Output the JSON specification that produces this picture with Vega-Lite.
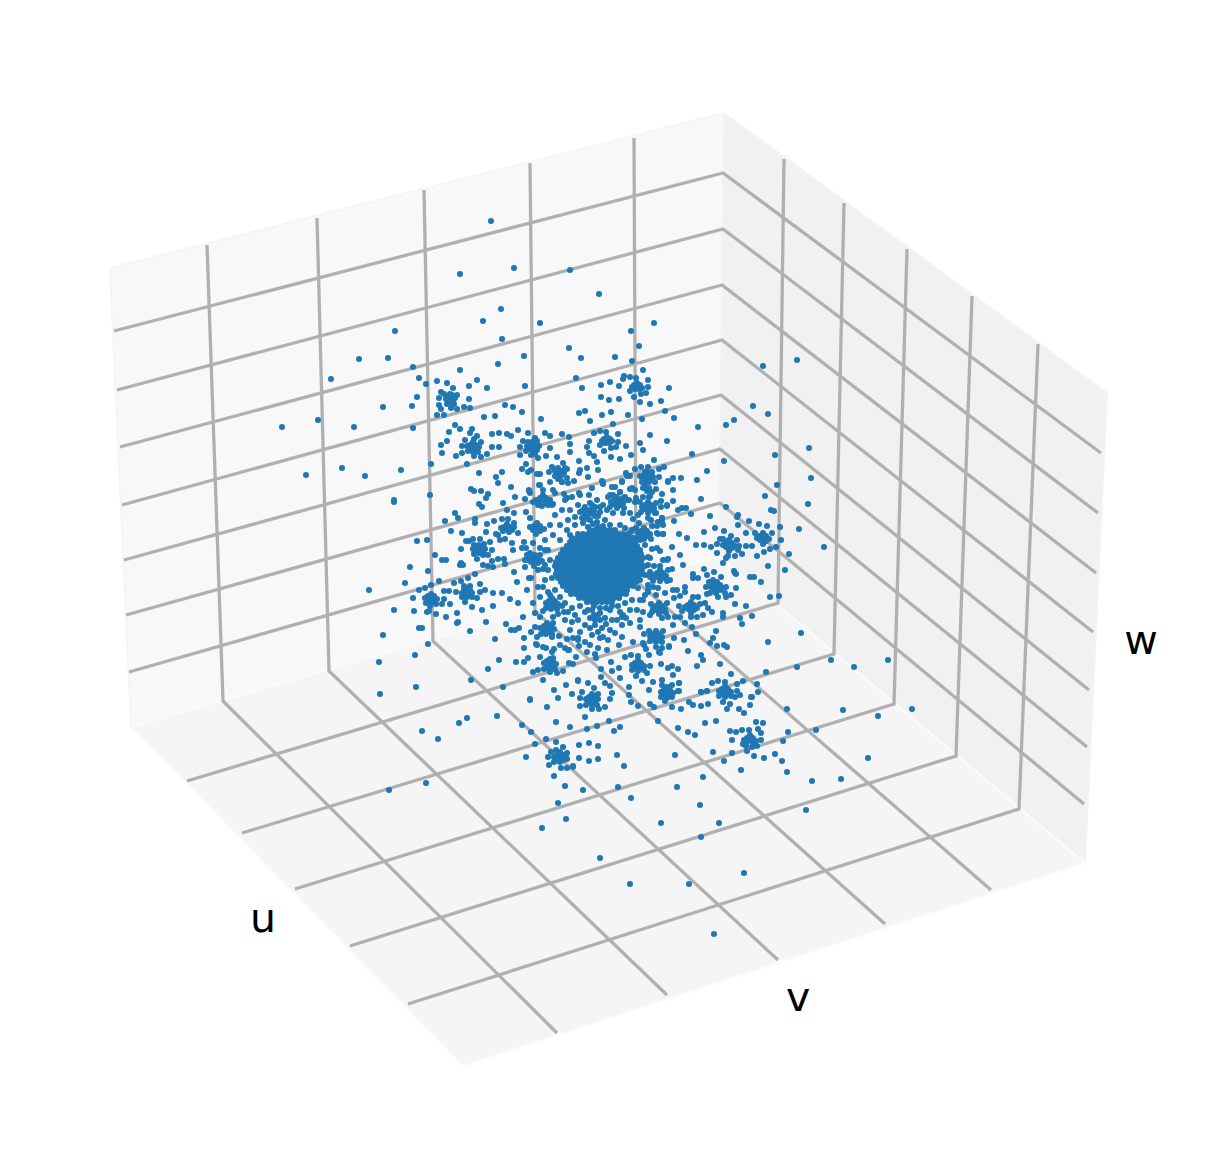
{"$schema":"https://vega.github.io/schema/vega-lite/v6.json","width":1220,"height":1168,"autosize":{"type":"fit","contains":"padding"},"padding":0,"background":"white","view":{"stroke":null},
"datasets":{
"panes":[{"p":"left","i":0,"x":110,"y":268},{"p":"left","i":1,"x":724,"y":113},{"p":"left","i":2,"x":719,"y":556},{"p":"left","i":3,"x":131,"y":727},{"p":"left","i":4,"x":110,"y":268}],
"panesR":[{"p":"right","i":0,"x":724,"y":113},{"p":"right","i":1,"x":1107,"y":393},{"p":"right","i":2,"x":1085,"y":863},{"p":"right","i":3,"x":719,"y":556},{"p":"right","i":4,"x":724,"y":113}],
"panesF":[{"p":"floor","i":0,"x":131,"y":727},{"p":"floor","i":1,"x":719,"y":556},{"p":"floor","i":2,"x":1085,"y":863},{"p":"floor","i":3,"x":463,"y":1066},{"p":"floor","i":4,"x":131,"y":727}],
"grid":[{"id":"a1","i":0,"x":207,"y":245},{"id":"a1","i":1,"x":223,"y":701},{"id":"a1","i":2,"x":557,"y":1033},
{"id":"a2","i":0,"x":317,"y":218},{"id":"a2","i":1,"x":329,"y":671},{"id":"a2","i":2,"x":667,"y":995},
{"id":"a3","i":0,"x":424,"y":190},{"id":"a3","i":1,"x":433,"y":641},{"id":"a3","i":2,"x":778,"y":960},
{"id":"a4","i":0,"x":530,"y":163},{"id":"a4","i":1,"x":535,"y":611},{"id":"a4","i":2,"x":885,"y":924},
{"id":"a5","i":0,"x":634,"y":138},{"id":"a5","i":1,"x":636,"y":581},{"id":"a5","i":2,"x":991,"y":890},
{"id":"b1","i":0,"x":784,"y":159},{"id":"b1","i":1,"x":778,"y":603},{"id":"b1","i":2,"x":187,"y":781},
{"id":"b2","i":0,"x":844,"y":203},{"id":"b2","i":1,"x":834,"y":654},{"id":"b2","i":2,"x":242,"y":833},
{"id":"b3","i":0,"x":907,"y":249},{"id":"b3","i":1,"x":894,"y":704},{"id":"b3","i":2,"x":295,"y":889},
{"id":"b4","i":0,"x":972,"y":296},{"id":"b4","i":1,"x":956,"y":756},{"id":"b4","i":2,"x":350,"y":946},
{"id":"b5","i":0,"x":1038,"y":344},{"id":"b5","i":1,"x":1019,"y":809},{"id":"b5","i":2,"x":408,"y":1004},
{"id":"c1","i":0,"x":114,"y":331},{"id":"c1","i":1,"x":723,"y":173},{"id":"c1","i":2,"x":1101,"y":453},
{"id":"c2","i":0,"x":117,"y":390},{"id":"c2","i":1,"x":723,"y":229},{"id":"c2","i":2,"x":1098,"y":513},
{"id":"c3","i":0,"x":120,"y":447},{"id":"c3","i":1,"x":722,"y":285},{"id":"c3","i":2,"x":1096,"y":573},
{"id":"c4","i":0,"x":122,"y":505},{"id":"c4","i":1,"x":722,"y":340},{"id":"c4","i":2,"x":1093,"y":632},
{"id":"c5","i":0,"x":124,"y":560},{"id":"c5","i":1,"x":721,"y":395},{"id":"c5","i":2,"x":1089,"y":690},
{"id":"c6","i":0,"x":126,"y":615},{"id":"c6","i":1,"x":720,"y":449},{"id":"c6","i":2,"x":1087,"y":747},
{"id":"c7","i":0,"x":129,"y":672},{"id":"c7","i":1,"x":720,"y":503},{"id":"c7","i":2,"x":1084,"y":804}],
"labels":[{"t":"u","x":263,"y":932},{"t":"v","x":798,"y":1011},{"t":"w","x":1141,"y":654}],
"pts":[
{"x":831,"y":660},{"x":854,"y":667},{"x":888,"y":660},{"x":787,"y":709},{"x":843,"y":710},{"x":878,"y":716},{"x":912,"y":709},{"x":788,"y":732},{"x":816,"y":730},{"x":783,"y":741},{"x":782,"y":761},{"x":787,"y":772},{"x":868,"y":758},{"x":812,"y":781},{"x":841,"y":779},{"x":806,"y":810},{"x":467,"y":718},{"x":459,"y":723},{"x":422,"y":731},{"x":438,"y":739},{"x":389,"y":790},{"x":426,"y":783},{"x":824,"y":547},{"x":801,"y":633},
{"x":491,"y":221},{"x":460,"y":274},{"x":514,"y":268},{"x":501,"y":309},{"x":483,"y":321},{"x":540,"y":323},{"x":502,"y":339},{"x":395,"y":331},{"x":359,"y":359},{"x":388,"y":358},{"x":413,"y":367},{"x":419,"y":378},{"x":426,"y":384},{"x":331,"y":379},{"x":524,"y":356},{"x":498,"y":364},{"x":460,"y":370},{"x":437,"y":381},{"x":447,"y":383},{"x":477,"y":380},{"x":469,"y":386},{"x":487,"y":388},{"x":525,"y":386},{"x":417,"y":397},{"x":412,"y":406},{"x":383,"y":407},
{"x":441,"y":392},{"x":453,"y":388},{"x":457,"y":395},{"x":439,"y":398},{"x":439,"y":405},{"x":441,"y":409},{"x":451,"y":408},{"x":457,"y":409},{"x":464,"y":407},{"x":470,"y":408},{"x":469,"y":399},{"x":437,"y":415},{"x":444,"y":415},{"x":450,"y":398},{"x":447,"y":396},{"x":452,"y":395},{"x":448,"y":401},{"x":453,"y":401},{"x":446,"y":399},{"x":455,"y":398},{"x":450,"y":402},{"x":450,"y":394},{"x":444,"y":394},{"x":447,"y":404},{"x":454,"y":404},
{"x":282,"y":427},{"x":318,"y":420},{"x":354,"y":427},{"x":413,"y":428},{"x":484,"y":417},{"x":495,"y":416},{"x":505,"y":405},{"x":513,"y":407},{"x":522,"y":412},{"x":541,"y":419},{"x":455,"y":425},{"x":460,"y":429},{"x":449,"y":432},{"x":447,"y":441},{"x":441,"y":445},{"x":442,"y":453},
{"x":472,"y":429},{"x":470,"y":433},{"x":477,"y":436},{"x":481,"y":442},{"x":465,"y":440},{"x":462,"y":446},{"x":462,"y":453},{"x":456,"y":456},{"x":474,"y":456},{"x":481,"y":457},{"x":487,"y":454},{"x":467,"y":464},{"x":473,"y":447},{"x":470,"y":445},{"x":476,"y":445},{"x":470,"y":449},{"x":476,"y":450},{"x":473,"y":442},{"x":467,"y":446},{"x":479,"y":447},{"x":473,"y":452},{"x":468,"y":451},{"x":478,"y":452},{"x":474,"y":439},
{"x":492,"y":434},{"x":499,"y":433},{"x":507,"y":434},{"x":511,"y":436},{"x":492,"y":447},{"x":499,"y":447},{"x":518,"y":430},{"x":528,"y":433},{"x":545,"y":433},{"x":550,"y":436},{"x":523,"y":441},{"x":535,"y":438},{"x":520,"y":447},{"x":520,"y":455},{"x":550,"y":448},{"x":546,"y":456},{"x":538,"y":458},{"x":533,"y":447},{"x":530,"y":445},{"x":536,"y":445},{"x":529,"y":449},{"x":533,"y":451},{"x":537,"y":450},{"x":527,"y":446},{"x":539,"y":446},{"x":532,"y":442},{"x":537,"y":441},{"x":528,"y":442},{"x":535,"y":454},{"x":531,"y":455},{"x":526,"y":451},
{"x":526,"y":464},{"x":522,"y":469},{"x":528,"y":472},{"x":531,"y":470},{"x":537,"y":474},{"x":540,"y":474},{"x":401,"y":470},{"x":342,"y":468},{"x":306,"y":475},{"x":365,"y":476},{"x":431,"y":464},{"x":479,"y":473},{"x":502,"y":472},{"x":496,"y":477},{"x":498,"y":483},{"x":511,"y":487},{"x":471,"y":489},{"x":474,"y":491},{"x":481,"y":491},{"x":488,"y":494},{"x":486,"y":498},{"x":430,"y":495},{"x":394,"y":500},{"x":515,"y":497},{"x":525,"y":499},
{"x":557,"y":457},{"x":552,"y":467},{"x":549,"y":472},{"x":550,"y":482},{"x":553,"y":490},{"x":555,"y":493},{"x":539,"y":485},{"x":529,"y":491},{"x":543,"y":490},{"x":558,"y":473},{"x":555,"y":471},{"x":561,"y":471},{"x":555,"y":476},{"x":561,"y":476},{"x":558,"y":468},{"x":564,"y":473},{"x":558,"y":479},{"x":565,"y":468},{"x":567,"y":478},
{"x":570,"y":270},{"x":599,"y":294},{"x":654,"y":323},{"x":631,"y":331},{"x":639,"y":346},{"x":569,"y":348},{"x":581,"y":358},{"x":615,"y":357},{"x":632,"y":361},{"x":643,"y":370},{"x":576,"y":378},{"x":582,"y":388},{"x":601,"y":385},{"x":610,"y":382},{"x":619,"y":386},{"x":624,"y":376},{"x":623,"y":379},{"x":630,"y":377},{"x":636,"y":378},{"x":648,"y":380},{"x":648,"y":387},{"x":646,"y":393},{"x":641,"y":394},{"x":630,"y":391},{"x":634,"y":397},{"x":601,"y":397},{"x":609,"y":400},{"x":619,"y":399},{"x":640,"y":402},{"x":650,"y":404},{"x":661,"y":401},{"x":669,"y":388},{"x":637,"y":386},{"x":634,"y":385},{"x":640,"y":385},{"x":635,"y":389},{"x":639,"y":389},{"x":637,"y":383},{"x":632,"y":387},{"x":642,"y":388},
{"x":579,"y":413},{"x":585,"y":411},{"x":602,"y":415},{"x":611,"y":412},{"x":628,"y":415},{"x":665,"y":411},{"x":674,"y":418},{"x":642,"y":419},{"x":590,"y":421},{"x":613,"y":424},{"x":698,"y":427},{"x":726,"y":425},{"x":734,"y":420},{"x":753,"y":406},{"x":768,"y":414},{"x":763,"y":366},{"x":797,"y":360},{"x":562,"y":434},{"x":569,"y":437},{"x":570,"y":444},{"x":570,"y":452},{"x":594,"y":433},{"x":600,"y":431},{"x":606,"y":432},{"x":618,"y":434},{"x":618,"y":442},{"x":589,"y":441},{"x":587,"y":447},{"x":600,"y":445},{"x":604,"y":451},{"x":611,"y":448},{"x":616,"y":447},{"x":626,"y":446},{"x":640,"y":443},{"x":650,"y":435},{"x":667,"y":441},{"x":643,"y":450},{"x":607,"y":441},{"x":604,"y":439},{"x":610,"y":439},{"x":605,"y":443},{"x":609,"y":443},{"x":602,"y":441},{"x":612,"y":441},{"x":607,"y":437},
{"x":589,"y":453},{"x":594,"y":456},{"x":597,"y":462},{"x":611,"y":457},{"x":620,"y":459},{"x":631,"y":455},{"x":579,"y":461},{"x":563,"y":463},{"x":692,"y":454},{"x":724,"y":461},{"x":775,"y":455},{"x":809,"y":448},{"x":654,"y":460},{"x":587,"y":468},{"x":580,"y":470},{"x":579,"y":473},{"x":567,"y":469},{"x":598,"y":470},{"x":588,"y":477},{"x":574,"y":481},{"x":568,"y":483},{"x":562,"y":482},{"x":626,"y":473},{"x":635,"y":469},{"x":641,"y":467},{"x":648,"y":467},{"x":659,"y":469},{"x":664,"y":467},{"x":659,"y":477},{"x":673,"y":478},{"x":681,"y":478},{"x":668,"y":481},{"x":697,"y":480},{"x":707,"y":471},{"x":777,"y":485},{"x":811,"y":478},
{"x":647,"y":476},{"x":644,"y":475},{"x":650,"y":475},{"x":645,"y":479},{"x":650,"y":479},{"x":642,"y":478},{"x":653,"y":477},{"x":647,"y":472},{"x":640,"y":476},{"x":645,"y":472},{"x":652,"y":472},{"x":644,"y":482},{"x":649,"y":482},{"x":627,"y":476},{"x":630,"y":476},{"x":622,"y":481},{"x":602,"y":481},{"x":603,"y":484},{"x":592,"y":488},{"x":579,"y":493},{"x":612,"y":487},{"x":615,"y":487},{"x":630,"y":489},{"x":635,"y":490},{"x":620,"y":492},{"x":645,"y":486},{"x":647,"y":491},{"x":652,"y":492},{"x":656,"y":489},{"x":673,"y":490},{"x":662,"y":494},{"x":701,"y":499},{"x":765,"y":496},{"x":673,"y":501},{"x":661,"y":501},{"x":649,"y":497},{"x":636,"y":498},{"x":628,"y":500},{"x":564,"y":494},{"x":567,"y":498},{"x":589,"y":495},
{"x":808,"y":504},{"x":726,"y":507},{"x":771,"y":510},{"x":774,"y":511},{"x":667,"y":506},{"x":678,"y":510},{"x":682,"y":508},{"x":686,"y":508},{"x":691,"y":514},{"x":710,"y":516},{"x":738,"y":515},{"x":737,"y":517},{"x":749,"y":521},{"x":759,"y":524},{"x":767,"y":526},{"x":780,"y":527},{"x":799,"y":529},{"x":738,"y":525},{"x":746,"y":533},{"x":724,"y":531},{"x":731,"y":536},{"x":715,"y":528},{"x":704,"y":532},{"x":679,"y":534},{"x":674,"y":521},{"x":662,"y":518},{"x":663,"y":525},{"x":657,"y":526},{"x":663,"y":534},{"x":658,"y":534},{"x":687,"y":538},
{"x":394,"y":502},{"x":503,"y":503},{"x":479,"y":504},{"x":482,"y":507},{"x":507,"y":510},{"x":514,"y":513},{"x":526,"y":512},{"x":455,"y":513},{"x":458,"y":518},{"x":445,"y":521},{"x":475,"y":519},{"x":475,"y":523},{"x":487,"y":524},{"x":494,"y":521},{"x":451,"y":531},{"x":462,"y":533},{"x":486,"y":532},{"x":417,"y":541},{"x":427,"y":540},{"x":435,"y":555},{"x":410,"y":567},{"x":428,"y":571},{"x":405,"y":583},{"x":369,"y":590},{"x":439,"y":581},{"x":394,"y":610},{"x":414,"y":611},{"x":413,"y":598},{"x":419,"y":590},{"x":425,"y":588},{"x":431,"y":585},
{"x":431,"y":598},{"x":428,"y":596},{"x":434,"y":596},{"x":428,"y":600},{"x":434,"y":600},{"x":431,"y":602},{"x":425,"y":598},{"x":437,"y":599},{"x":431,"y":594},{"x":426,"y":603},{"x":436,"y":604},{"x":430,"y":606},{"x":427,"y":612},{"x":429,"y":611},{"x":436,"y":614},{"x":442,"y":604},{"x":444,"y":599},{"x":450,"y":604},{"x":446,"y":617},{"x":457,"y":613},{"x":457,"y":623},{"x":458,"y":622},{"x":472,"y":607},{"x":482,"y":610},{"x":493,"y":606},{"x":486,"y":622},{"x":506,"y":624},{"x":510,"y":599},{"x":518,"y":603},{"x":502,"y":593},{"x":493,"y":593},{"x":485,"y":590},{"x":523,"y":617},
{"x":467,"y":592},{"x":464,"y":590},{"x":470,"y":590},{"x":465,"y":594},{"x":470,"y":594},{"x":462,"y":593},{"x":472,"y":593},{"x":467,"y":588},{"x":467,"y":597},{"x":462,"y":597},{"x":472,"y":597},{"x":464,"y":586},{"x":470,"y":586},{"x":444,"y":591},{"x":449,"y":591},{"x":454,"y":583},{"x":461,"y":581},{"x":456,"y":592},{"x":468,"y":578},{"x":475,"y":574},{"x":480,"y":584},{"x":480,"y":592},{"x":477,"y":598},{"x":465,"y":602},{"x":461,"y":563},{"x":460,"y":565},{"x":463,"y":565},{"x":442,"y":560},{"x":446,"y":560},{"x":477,"y":559},{"x":483,"y":565},{"x":492,"y":561},{"x":498,"y":559},{"x":504,"y":559},{"x":488,"y":566},{"x":493,"y":567},{"x":505,"y":564},{"x":514,"y":572},{"x":525,"y":567},{"x":517,"y":582},{"x":529,"y":578},{"x":531,"y":578},{"x":527,"y":590},
{"x":479,"y":549},{"x":476,"y":547},{"x":482,"y":547},{"x":476,"y":551},{"x":482,"y":551},{"x":479,"y":553},{"x":473,"y":549},{"x":485,"y":549},{"x":479,"y":545},{"x":474,"y":545},{"x":484,"y":544},{"x":474,"y":554},{"x":484,"y":554},{"x":466,"y":541},{"x":469,"y":541},{"x":473,"y":539},{"x":480,"y":539},{"x":461,"y":549},{"x":490,"y":542},{"x":492,"y":550},{"x":488,"y":555},{"x":483,"y":555},
{"x":507,"y":529},{"x":504,"y":527},{"x":510,"y":527},{"x":503,"y":531},{"x":509,"y":532},{"x":512,"y":530},{"x":501,"y":528},{"x":507,"y":524},{"x":514,"y":527},{"x":498,"y":535},{"x":496,"y":534},{"x":500,"y":540},{"x":505,"y":539},{"x":502,"y":519},{"x":508,"y":519},{"x":514,"y":523},{"x":518,"y":533},{"x":512,"y":543},{"x":513,"y":550},{"x":522,"y":548},{"x":524,"y":542},{"x":526,"y":548},{"x":533,"y":543},{"x":530,"y":518},{"x":537,"y":528},{"x":534,"y":526},{"x":540,"y":526},{"x":533,"y":530},{"x":540,"y":531},{"x":530,"y":527},{"x":544,"y":529},{"x":537,"y":523},{"x":536,"y":534},
{"x":543,"y":500},{"x":540,"y":498},{"x":546,"y":498},{"x":539,"y":502},{"x":546,"y":503},{"x":536,"y":500},{"x":550,"y":500},{"x":543,"y":495},{"x":542,"y":506},{"x":538,"y":505},{"x":548,"y":505},{"x":553,"y":504},{"x":529,"y":490},{"x":530,"y":493},{"x":540,"y":485},{"x":533,"y":502},{"x":552,"y":505},{"x":562,"y":482},
{"x":535,"y":560},{"x":532,"y":558},{"x":538,"y":558},{"x":531,"y":562},{"x":538,"y":563},{"x":528,"y":560},{"x":542,"y":561},{"x":535,"y":555},{"x":534,"y":566},{"x":545,"y":565},{"x":530,"y":553},{"x":527,"y":555},{"x":525,"y":560},{"x":540,"y":548},{"x":545,"y":550},{"x":538,"y":570},{"x":543,"y":569},
{"x":552,"y":603},{"x":549,"y":601},{"x":555,"y":601},{"x":549,"y":605},{"x":555,"y":606},{"x":546,"y":603},{"x":558,"y":604},{"x":552,"y":598},{"x":551,"y":609},{"x":546,"y":608},{"x":557,"y":609},{"x":540,"y":597},{"x":538,"y":587},{"x":543,"y":587},{"x":548,"y":592},{"x":533,"y":603},{"x":535,"y":613},{"x":543,"y":611},{"x":540,"y":617},{"x":553,"y":617},{"x":558,"y":614},{"x":564,"y":612},{"x":553,"y":623},
{"x":547,"y":628},{"x":544,"y":626},{"x":550,"y":626},{"x":543,"y":630},{"x":550,"y":631},{"x":540,"y":628},{"x":554,"y":629},{"x":547,"y":623},{"x":546,"y":634},{"x":541,"y":634},{"x":552,"y":634},{"x":535,"y":627},{"x":531,"y":632},{"x":537,"y":637},{"x":524,"y":638},{"x":536,"y":644},{"x":524,"y":648},{"x":528,"y":658},{"x":552,"y":637},{"x":559,"y":636},{"x":567,"y":639},{"x":573,"y":638},{"x":578,"y":638},{"x":560,"y":645},{"x":565,"y":648},{"x":569,"y":650},{"x":511,"y":630},{"x":515,"y":630},{"x":519,"y":628},
{"x":550,"y":663},{"x":547,"y":661},{"x":553,"y":661},{"x":547,"y":665},{"x":553,"y":666},{"x":544,"y":663},{"x":556,"y":664},{"x":550,"y":659},{"x":549,"y":669},{"x":544,"y":669},{"x":555,"y":669},{"x":540,"y":657},{"x":546,"y":648},{"x":552,"y":652},{"x":553,"y":658},{"x":533,"y":672},{"x":538,"y":670},{"x":550,"y":672},{"x":557,"y":673},{"x":563,"y":671},{"x":569,"y":663},{"x":573,"y":664},{"x":543,"y":680},{"x":516,"y":662},{"x":524,"y":662},{"x":499,"y":660},{"x":488,"y":669},{"x":470,"y":631},{"x":495,"y":639},{"x":428,"y":644},{"x":415,"y":655},{"x":379,"y":662},{"x":416,"y":687},{"x":380,"y":694},{"x":471,"y":680},{"x":503,"y":687},{"x":383,"y":635},{"x":419,"y":628},{"x":422,"y":628},{"x":554,"y":690},{"x":566,"y":685},{"x":578,"y":680},{"x":572,"y":694},{"x":530,"y":699},
{"x":781,"y":540},{"x":776,"y":547},{"x":770,"y":549},{"x":764,"y":552},{"x":789,"y":554},{"x":768,"y":566},{"x":785,"y":570},{"x":761,"y":582},{"x":763,"y":538},{"x":760,"y":536},{"x":766,"y":536},{"x":760,"y":540},{"x":766,"y":541},{"x":757,"y":538},{"x":769,"y":539},{"x":763,"y":533},{"x":763,"y":544},{"x":772,"y":533},{"x":755,"y":533},
{"x":729,"y":545},{"x":726,"y":543},{"x":732,"y":543},{"x":726,"y":547},{"x":732,"y":548},{"x":723,"y":545},{"x":735,"y":546},{"x":729,"y":540},{"x":729,"y":551},{"x":737,"y":540},{"x":723,"y":539},{"x":738,"y":550},{"x":720,"y":539},{"x":696,"y":545},{"x":704,"y":545},{"x":711,"y":547},{"x":717,"y":544},{"x":739,"y":546},{"x":746,"y":546},{"x":752,"y":546},{"x":735,"y":556},{"x":742,"y":554},{"x":757,"y":556},{"x":717,"y":553},{"x":728,"y":556},{"x":726,"y":558},{"x":723,"y":563},{"x":680,"y":555},{"x":668,"y":559},{"x":667,"y":560},{"x":683,"y":565},{"x":672,"y":569},{"x":672,"y":547},
{"x":735,"y":573},{"x":734,"y":571},{"x":736,"y":574},{"x":693,"y":574},{"x":704,"y":569},{"x":714,"y":572},{"x":698,"y":578},{"x":693,"y":578},{"x":707,"y":575},{"x":750,"y":577},{"x":754,"y":577},
{"x":717,"y":587},{"x":714,"y":585},{"x":720,"y":585},{"x":714,"y":589},{"x":720,"y":590},{"x":711,"y":587},{"x":723,"y":588},{"x":717,"y":582},{"x":716,"y":593},{"x":726,"y":587},{"x":709,"y":582},{"x":710,"y":593},{"x":725,"y":593},{"x":713,"y":580},{"x":721,"y":577},{"x":706,"y":587},{"x":707,"y":594},{"x":718,"y":597},{"x":726,"y":597},{"x":731,"y":595},{"x":736,"y":588},{"x":735,"y":604},{"x":746,"y":606},{"x":770,"y":597},{"x":779,"y":596},
{"x":691,"y":607},{"x":688,"y":605},{"x":694,"y":605},{"x":688,"y":609},{"x":694,"y":610},{"x":685,"y":607},{"x":697,"y":608},{"x":691,"y":602},{"x":691,"y":613},{"x":682,"y":611},{"x":700,"y":604},{"x":685,"y":587},{"x":685,"y":592},{"x":693,"y":597},{"x":698,"y":597},{"x":705,"y":603},{"x":708,"y":608},{"x":712,"y":612},{"x":703,"y":615},{"x":697,"y":617},{"x":691,"y":617},{"x":685,"y":623},{"x":680,"y":617},{"x":675,"y":617},{"x":692,"y":627},{"x":696,"y":634},{"x":673,"y":625},{"x":679,"y":606},{"x":680,"y":596},{"x":673,"y":590},{"x":677,"y":590},{"x":674,"y":598},
{"x":723,"y":613},{"x":723,"y":617},{"x":740,"y":618},{"x":752,"y":616},{"x":742,"y":624},{"x":716,"y":631},{"x":713,"y":638},{"x":710,"y":643},{"x":717,"y":646},{"x":724,"y":645},{"x":727,"y":647},{"x":768,"y":642},{"x":701,"y":655},{"x":703,"y":660},{"x":688,"y":651},{"x":684,"y":640},{"x":697,"y":666},{"x":720,"y":664},{"x":766,"y":672},{"x":797,"y":667},{"x":731,"y":674},{"x":743,"y":681},{"x":737,"y":684},{"x":757,"y":684},{"x":758,"y":692},{"x":718,"y":681},{"x":712,"y":683},{"x":707,"y":691},{"x":701,"y":692},{"x":752,"y":697},{"x":740,"y":695},{"x":679,"y":683},{"x":678,"y":691},
{"x":497,"y":716},{"x":530,"y":700},{"x":547,"y":707},{"x":558,"y":698},{"x":578,"y":681},{"x":588,"y":683},{"x":594,"y":688},{"x":582,"y":692},{"x":598,"y":694},{"x":612,"y":693},{"x":610,"y":686},{"x":605,"y":683},{"x":610,"y":699},{"x":580,"y":698},{"x":580,"y":706},{"x":605,"y":707},{"x":599,"y":709},{"x":592,"y":709},{"x":585,"y":717},{"x":556,"y":722},{"x":570,"y":727},{"x":587,"y":729},{"x":597,"y":726},{"x":609,"y":721},{"x":614,"y":731},{"x":620,"y":727},{"x":522,"y":725},{"x":531,"y":732},{"x":535,"y":744},{"x":546,"y":739},{"x":556,"y":742},{"x":563,"y":747},{"x":526,"y":757},{"x":548,"y":757},{"x":551,"y":752},{"x":567,"y":753},{"x":567,"y":759},{"x":579,"y":745},{"x":589,"y":743},{"x":598,"y":746},{"x":579,"y":758},{"x":589,"y":761},{"x":598,"y":759},{"x":617,"y":755},{"x":624,"y":766},{"x":549,"y":765},{"x":561,"y":768},{"x":567,"y":768},{"x":573,"y":767},{"x":573,"y":766},{"x":554,"y":776},{"x":565,"y":786},{"x":583,"y":790},{"x":618,"y":787},{"x":631,"y":798},{"x":558,"y":803},{"x":566,"y":819},{"x":542,"y":828},{"x":600,"y":858},{"x":630,"y":884},{"x":689,"y":884},{"x":744,"y":873},{"x":714,"y":934},{"x":661,"y":823},{"x":719,"y":823},{"x":701,"y":837},{"x":700,"y":805},{"x":677,"y":787},{"x":703,"y":777},{"x":675,"y":755},{"x":741,"y":770},{"x":724,"y":761},{"x":713,"y":752},{"x":732,"y":753},{"x":754,"y":756},{"x":764,"y":758},{"x":775,"y":754},{"x":658,"y":721},{"x":678,"y":728},{"x":688,"y":732},{"x":695,"y":735},{"x":705,"y":723},{"x":716,"y":721},{"x":756,"y":722},{"x":763,"y":723},{"x":730,"y":731},{"x":736,"y":732},{"x":742,"y":730},{"x":749,"y":730},{"x":758,"y":729},{"x":761,"y":733},{"x":732,"y":740},{"x":761,"y":740},{"x":743,"y":744},{"x":747,"y":751},
{"x":750,"y":740},{"x":747,"y":738},{"x":753,"y":738},{"x":747,"y":742},{"x":753,"y":743},{"x":744,"y":740},{"x":756,"y":741},{"x":750,"y":735},{"x":752,"y":747},{"x":746,"y":746},{"x":757,"y":746},
{"x":560,"y":757},{"x":557,"y":755},{"x":563,"y":755},{"x":557,"y":759},{"x":563,"y":760},{"x":554,"y":757},{"x":566,"y":757},{"x":560,"y":752},{"x":560,"y":762},{"x":554,"y":762},{"x":556,"y":750},
{"x":592,"y":699},{"x":589,"y":697},{"x":595,"y":697},{"x":589,"y":701},{"x":595,"y":702},{"x":586,"y":699},{"x":598,"y":699},{"x":592,"y":694},{"x":592,"y":705},{"x":586,"y":705},{"x":597,"y":705},
{"x":667,"y":692},{"x":664,"y":690},{"x":670,"y":690},{"x":664,"y":694},{"x":670,"y":695},{"x":661,"y":692},{"x":673,"y":693},{"x":667,"y":687},{"x":667,"y":698},{"x":661,"y":697},{"x":672,"y":697},{"x":662,"y":685},{"x":672,"y":685},{"x":649,"y":690},{"x":653,"y":682},{"x":662,"y":680},{"x":679,"y":683},{"x":679,"y":691},{"x":665,"y":701},{"x":672,"y":707},{"x":681,"y":709},{"x":693,"y":705},{"x":701,"y":706},{"x":708,"y":704},{"x":689,"y":702},{"x":701,"y":692},{"x":707,"y":691},{"x":654,"y":707},{"x":650,"y":704},{"x":638,"y":706},{"x":631,"y":702},{"x":629,"y":695},{"x":629,"y":687},
{"x":725,"y":691},{"x":722,"y":689},{"x":728,"y":689},{"x":722,"y":693},{"x":728,"y":694},{"x":719,"y":691},{"x":731,"y":692},{"x":725,"y":686},{"x":725,"y":697},{"x":719,"y":696},{"x":731,"y":696},{"x":725,"y":682},{"x":737,"y":691},{"x":735,"y":697},{"x":723,"y":702},{"x":730,"y":704},{"x":727,"y":709},{"x":739,"y":709},{"x":744,"y":713},{"x":750,"y":705},{"x":751,"y":697},
{"x":638,"y":665},{"x":635,"y":663},{"x":641,"y":663},{"x":635,"y":667},{"x":641,"y":668},{"x":632,"y":665},{"x":644,"y":666},{"x":638,"y":660},{"x":638,"y":671},{"x":632,"y":670},{"x":644,"y":670},{"x":625,"y":657},{"x":631,"y":655},{"x":638,"y":656},{"x":649,"y":655},{"x":650,"y":666},{"x":619,"y":668},{"x":612,"y":671},{"x":611,"y":662},{"x":601,"y":669},{"x":601,"y":677},{"x":620,"y":678},{"x":636,"y":676},{"x":642,"y":681},{"x":647,"y":673},{"x":661,"y":664},{"x":668,"y":668},{"x":672,"y":666},{"x":678,"y":669},{"x":673,"y":675},{"x":596,"y":658},{"x":595,"y":654},{"x":607,"y":650},{"x":619,"y":645},{"x":644,"y":645},{"x":646,"y":649},{"x":662,"y":648},{"x":659,"y":652},{"x":669,"y":647},
{"x":554,"y":649},{"x":543,"y":647},{"x":568,"y":650},{"x":576,"y":657},{"x":537,"y":645},{"x":579,"y":646},{"x":587,"y":652},
{"x":659,"y":608},{"x":656,"y":606},{"x":662,"y":606},{"x":656,"y":610},{"x":662,"y":611},{"x":653,"y":608},{"x":665,"y":609},{"x":659,"y":603},{"x":659,"y":614},{"x":652,"y":612},{"x":666,"y":613},{"x":651,"y":604},{"x":667,"y":603},{"x":656,"y":595},{"x":665,"y":593},{"x":648,"y":592},{"x":643,"y":600},{"x":643,"y":612},{"x":637,"y":610},{"x":650,"y":615},{"x":662,"y":618},{"x":668,"y":617},{"x":640,"y":620},{"x":630,"y":623},{"x":622,"y":617},{"x":617,"y":620},{"x":623,"y":615},{"x":640,"y":627},{"x":644,"y":634},{"x":643,"y":643},{"x":633,"y":642},{"x":622,"y":637},{"x":603,"y":637},
{"x":656,"y":636},{"x":653,"y":634},{"x":659,"y":634},{"x":653,"y":638},{"x":659,"y":639},{"x":650,"y":636},{"x":662,"y":637},{"x":656,"y":631},{"x":656,"y":642},{"x":650,"y":641},{"x":662,"y":642},{"x":649,"y":631},{"x":663,"y":631},{"x":669,"y":646},{"x":660,"y":653},{"x":674,"y":638},{"x":656,"y":647},
{"x":660,"y":575},{"x":657,"y":573},{"x":663,"y":573},{"x":657,"y":577},{"x":663,"y":578},{"x":654,"y":575},{"x":666,"y":576},{"x":660,"y":570},{"x":660,"y":581},{"x":653,"y":581},{"x":667,"y":581},{"x":650,"y":572},{"x":668,"y":570},{"x":654,"y":566},{"x":660,"y":566},{"x":670,"y":580},{"x":648,"y":557},{"x":652,"y":549},{"x":657,"y":548},{"x":660,"y":551},{"x":663,"y":560},{"x":650,"y":577},{"x":640,"y":580},{"x":638,"y":588},{"x":648,"y":590},{"x":658,"y":588},{"x":653,"y":587},
{"x":644,"y":533},{"x":641,"y":531},{"x":647,"y":531},{"x":641,"y":535},{"x":647,"y":536},{"x":638,"y":533},{"x":650,"y":534},{"x":644,"y":528},{"x":644,"y":539},{"x":637,"y":538},{"x":651,"y":539},{"x":636,"y":528},{"x":652,"y":526},{"x":658,"y":522},{"x":662,"y":522},{"x":651,"y":520},{"x":633,"y":519},{"x":639,"y":523},{"x":631,"y":532},{"x":623,"y":535},{"x":633,"y":538},{"x":637,"y":547},{"x":628,"y":545},{"x":657,"y":533},{"x":663,"y":534},
{"x":617,"y":502},{"x":614,"y":500},{"x":620,"y":500},{"x":614,"y":504},{"x":620,"y":505},{"x":611,"y":502},{"x":623,"y":503},{"x":617,"y":497},{"x":617,"y":508},{"x":610,"y":507},{"x":624,"y":508},{"x":608,"y":497},{"x":625,"y":497},{"x":610,"y":495},{"x":613,"y":495},{"x":620,"y":492},{"x":623,"y":498},{"x":629,"y":500},{"x":597,"y":500},{"x":607,"y":510},{"x":613,"y":513},{"x":623,"y":513},{"x":630,"y":513},{"x":635,"y":502},
{"x":648,"y":507},{"x":645,"y":505},{"x":651,"y":505},{"x":645,"y":509},{"x":651,"y":510},{"x":642,"y":507},{"x":654,"y":508},{"x":648,"y":502},{"x":648,"y":513},{"x":641,"y":512},{"x":655,"y":513},{"x":640,"y":502},{"x":656,"y":503},{"x":643,"y":497},{"x":650,"y":496},{"x":667,"y":505},{"x":661,"y":507},{"x":656,"y":513},{"x":648,"y":518},{"x":638,"y":515},{"x":662,"y":518},{"x":642,"y":482},{"x":655,"y":482},{"x":668,"y":482},{"x":603,"y":482},{"x":622,"y":482},{"x":632,"y":488},{"x":649,"y":488},{"x":643,"y":488},
{"x":590,"y":510},{"x":585,"y":507},{"x":595,"y":507},{"x":580,"y":512},{"x":600,"y":512},{"x":585,"y":515},{"x":595,"y":516},{"x":590,"y":503},{"x":578,"y":505},{"x":603,"y":505},{"x":575,"y":517},{"x":590,"y":520},{"x":597,"y":522},{"x":583,"y":523},{"x":605,"y":520},{"x":610,"y":525},{"x":575,"y":525},{"x":568,"y":520},{"x":562,"y":510},{"x":570,"y":510},{"x":565,"y":500},{"x":572,"y":497},{"x":580,"y":495},{"x":560,"y":525},{"x":567,"y":530},{"x":555,"y":515},{"x":550,"y":525},{"x":553,"y":535},{"x":560,"y":540},{"x":570,"y":535},{"x":615,"y":530},{"x":620,"y":525},{"x":625,"y":528},
{"x":586,"y":511},{"x":590,"y":514},{"x":594,"y":511},{"x":598,"y":516},{"x":587,"y":519},{"x":593,"y":524},{"x":588,"y":527},{"x":598,"y":527},{"x":603,"y":526},{"x":582,"y":518},{"x":600,"y":507},{"x":592,"y":505},{"x":583,"y":510},
{"x":545,"y":540},{"x":548,"y":550},{"x":540,"y":555},{"x":550,"y":560},{"x":548,"y":570},{"x":552,"y":578},{"x":545,"y":580},{"x":555,"y":590},{"x":560,"y":597},{"x":550,"y":595},{"x":565,"y":603},{"x":572,"y":608},{"x":580,"y":606},{"x":575,"y":615},{"x":585,"y":612},{"x":592,"y":610},{"x":600,"y":608},{"x":610,"y":610},{"x":618,"y":606},{"x":625,"y":603},{"x":632,"y":600},{"x":590,"y":618},{"x":598,"y":615},{"x":605,"y":618},{"x":612,"y":620},{"x":585,"y":625},{"x":595,"y":625},{"x":602,"y":628},{"x":610,"y":630},{"x":580,"y":632},{"x":592,"y":635},{"x":600,"y":638},{"x":608,"y":640},{"x":615,"y":633},{"x":572,"y":622},{"x":565,"y":620},{"x":570,"y":630},{"x":578,"y":640},{"x":585,"y":642},{"x":590,"y":645},{"x":598,"y":648},{"x":622,"y":625},{"x":630,"y":610},{"x":640,"y":600},{"x":645,"y":595},{"x":648,"y":585},{"x":645,"y":575},{"x":648,"y":565},{"x":650,"y":558},{"x":640,"y":550},{"x":645,"y":545},{"x":640,"y":540},{"x":632,"y":530},
{"x":594,"y":606},{"x":588,"y":610},{"x":600,"y":613},{"x":594,"y":615},{"x":606,"y":608},{"x":612,"y":606},{"x":600,"y":620},{"x":595,"y":620},{"x":606,"y":624},{"x":590,"y":628},{"x":598,"y":632},{"x":578,"y":620},{"x":568,"y":612},{"x":562,"y":606},{"x":620,"y":612},{"x":626,"y":618},
{"x":590,"y":530},{"x":595,"y":530},{"x":600,"y":530},{"x":605,"y":530},{"x":610,"y":530},{"x":578,"y":534},{"x":583,"y":534},{"x":588,"y":534},{"x":593,"y":534},{"x":598,"y":534},{"x":603,"y":534},{"x":608,"y":534},{"x":613,"y":534},{"x":618,"y":534},{"x":623,"y":534},{"x":628,"y":534},
{"x":572,"y":538},{"x":577,"y":538},{"x":582,"y":538},{"x":587,"y":538},{"x":592,"y":538},{"x":597,"y":538},{"x":602,"y":538},{"x":607,"y":538},{"x":612,"y":538},{"x":617,"y":538},{"x":622,"y":538},{"x":627,"y":538},{"x":632,"y":538},
{"x":570,"y":542},{"x":575,"y":542},{"x":580,"y":542},{"x":585,"y":542},{"x":590,"y":542},{"x":595,"y":542},{"x":600,"y":542},{"x":605,"y":542},{"x":610,"y":542},{"x":615,"y":542},{"x":620,"y":542},{"x":625,"y":542},{"x":630,"y":542},{"x":635,"y":542},
{"x":567,"y":546},{"x":572,"y":546},{"x":577,"y":546},{"x":582,"y":546},{"x":587,"y":546},{"x":592,"y":546},{"x":597,"y":546},{"x":602,"y":546},{"x":607,"y":546},{"x":612,"y":546},{"x":617,"y":546},{"x":622,"y":546},{"x":627,"y":546},{"x":632,"y":546},{"x":637,"y":546},
{"x":563,"y":550},{"x":568,"y":550},{"x":573,"y":550},{"x":578,"y":550},{"x":583,"y":550},{"x":588,"y":550},{"x":593,"y":550},{"x":598,"y":550},{"x":603,"y":550},{"x":608,"y":550},{"x":613,"y":550},{"x":618,"y":550},{"x":623,"y":550},{"x":628,"y":550},{"x":633,"y":550},{"x":638,"y":550},
{"x":561,"y":554},{"x":566,"y":554},{"x":571,"y":554},{"x":576,"y":554},{"x":581,"y":554},{"x":586,"y":554},{"x":591,"y":554},{"x":596,"y":554},{"x":601,"y":554},{"x":606,"y":554},{"x":611,"y":554},{"x":616,"y":554},{"x":621,"y":554},{"x":626,"y":554},{"x":631,"y":554},{"x":636,"y":554},{"x":641,"y":554},
{"x":558,"y":558},{"x":563,"y":558},{"x":568,"y":558},{"x":573,"y":558},{"x":578,"y":558},{"x":583,"y":558},{"x":588,"y":558},{"x":593,"y":558},{"x":598,"y":558},{"x":603,"y":558},{"x":608,"y":558},{"x":613,"y":558},{"x":618,"y":558},{"x":623,"y":558},{"x":628,"y":558},{"x":633,"y":558},{"x":638,"y":558},{"x":643,"y":558},
{"x":556,"y":562},{"x":561,"y":562},{"x":566,"y":562},{"x":571,"y":562},{"x":576,"y":562},{"x":581,"y":562},{"x":586,"y":562},{"x":591,"y":562},{"x":596,"y":562},{"x":601,"y":562},{"x":606,"y":562},{"x":611,"y":562},{"x":616,"y":562},{"x":621,"y":562},{"x":626,"y":562},{"x":631,"y":562},{"x":636,"y":562},{"x":641,"y":562},
{"x":555,"y":566},{"x":560,"y":566},{"x":565,"y":566},{"x":570,"y":566},{"x":575,"y":566},{"x":580,"y":566},{"x":585,"y":566},{"x":590,"y":566},{"x":595,"y":566},{"x":600,"y":566},{"x":605,"y":566},{"x":610,"y":566},{"x":615,"y":566},{"x":620,"y":566},{"x":625,"y":566},{"x":630,"y":566},{"x":635,"y":566},{"x":640,"y":566},{"x":645,"y":566},
{"x":557,"y":570},{"x":562,"y":570},{"x":567,"y":570},{"x":572,"y":570},{"x":577,"y":570},{"x":582,"y":570},{"x":587,"y":570},{"x":592,"y":570},{"x":597,"y":570},{"x":602,"y":570},{"x":607,"y":570},{"x":612,"y":570},{"x":617,"y":570},{"x":622,"y":570},{"x":627,"y":570},{"x":632,"y":570},{"x":637,"y":570},{"x":642,"y":570},
{"x":556,"y":574},{"x":561,"y":574},{"x":566,"y":574},{"x":571,"y":574},{"x":576,"y":574},{"x":581,"y":574},{"x":586,"y":574},{"x":591,"y":574},{"x":596,"y":574},{"x":601,"y":574},{"x":606,"y":574},{"x":611,"y":574},{"x":616,"y":574},{"x":621,"y":574},{"x":626,"y":574},{"x":631,"y":574},{"x":636,"y":574},{"x":641,"y":574},
{"x":558,"y":578},{"x":563,"y":578},{"x":568,"y":578},{"x":573,"y":578},{"x":578,"y":578},{"x":583,"y":578},{"x":588,"y":578},{"x":593,"y":578},{"x":598,"y":578},{"x":603,"y":578},{"x":608,"y":578},{"x":613,"y":578},{"x":618,"y":578},{"x":623,"y":578},{"x":628,"y":578},{"x":633,"y":578},{"x":638,"y":578},
{"x":561,"y":582},{"x":566,"y":582},{"x":571,"y":582},{"x":576,"y":582},{"x":581,"y":582},{"x":586,"y":582},{"x":591,"y":582},{"x":596,"y":582},{"x":601,"y":582},{"x":606,"y":582},{"x":611,"y":582},{"x":616,"y":582},{"x":621,"y":582},{"x":626,"y":582},{"x":631,"y":582},{"x":636,"y":582},
{"x":563,"y":586},{"x":568,"y":586},{"x":573,"y":586},{"x":578,"y":586},{"x":583,"y":586},{"x":588,"y":586},{"x":593,"y":586},{"x":598,"y":586},{"x":603,"y":586},{"x":608,"y":586},{"x":613,"y":586},{"x":618,"y":586},{"x":623,"y":586},{"x":628,"y":586},{"x":633,"y":586},
{"x":567,"y":590},{"x":572,"y":590},{"x":577,"y":590},{"x":582,"y":590},{"x":587,"y":590},{"x":592,"y":590},{"x":597,"y":590},{"x":602,"y":590},{"x":607,"y":590},{"x":612,"y":590},{"x":617,"y":590},{"x":622,"y":590},{"x":627,"y":590},
{"x":571,"y":594},{"x":576,"y":594},{"x":581,"y":594},{"x":586,"y":594},{"x":591,"y":594},{"x":596,"y":594},{"x":601,"y":594},{"x":606,"y":594},{"x":611,"y":594},{"x":616,"y":594},{"x":621,"y":594},{"x":626,"y":594},
{"x":579,"y":598},{"x":584,"y":598},{"x":589,"y":598},{"x":594,"y":598},{"x":599,"y":598},{"x":604,"y":598},{"x":609,"y":598},{"x":614,"y":598},{"x":619,"y":598},
{"x":587,"y":602},{"x":592,"y":602},{"x":597,"y":602},{"x":602,"y":602},{"x":607,"y":602},{"x":612,"y":602}
]},
"layer":[
{"data":{"name":"panes"},"mark":{"type":"line","fill":"#f8f8f8","stroke":"#f5f5f5","strokeWidth":2},"encoding":{"x":{"field":"x","type":"quantitative","scale":{"domain":[0,1220],"nice":false,"zero":false},"axis":null},"y":{"field":"y","type":"quantitative","scale":{"domain":[1168,0],"nice":false,"zero":false},"axis":null},"order":{"field":"i"}}},
{"data":{"name":"panesR"},"mark":{"type":"line","fill":"#f1f1f1","stroke":"#f3f3f3","strokeWidth":2},"encoding":{"x":{"field":"x","type":"quantitative","axis":null},"y":{"field":"y","type":"quantitative","axis":null},"order":{"field":"i"}}},
{"data":{"name":"panesF"},"mark":{"type":"line","fill":"#f5f5f5","stroke":"#fbfbfb","strokeWidth":2},"encoding":{"x":{"field":"x","type":"quantitative","axis":null},"y":{"field":"y","type":"quantitative","axis":null},"order":{"field":"i"}}},
{"data":{"name":"grid"},"mark":{"type":"line","stroke":"#b0b0b0","strokeWidth":3.3,"strokeJoin":"miter"},"encoding":{"x":{"field":"x","type":"quantitative","axis":null},"y":{"field":"y","type":"quantitative","axis":null},"detail":{"field":"id"},"order":{"field":"i"}}},
{"data":{"name":"pts"},"mark":{"type":"circle","color":"#1f77b4","opacity":1,"size":37},"encoding":{"x":{"field":"x","type":"quantitative","axis":null},"y":{"field":"y","type":"quantitative","axis":null}}},
{"data":{"name":"labels"},"mark":{"type":"text","font":"DejaVu Sans","fontSize":41,"color":"black","align":"center","baseline":"alphabetic"},"encoding":{"x":{"field":"x","type":"quantitative","axis":null},"y":{"field":"y","type":"quantitative","axis":null},"text":{"field":"t"}}}
]}
